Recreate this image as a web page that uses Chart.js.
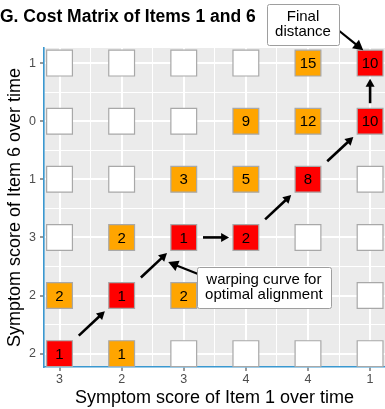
<!DOCTYPE html>
<html>
<head>
<meta charset="utf-8">
<script src="https://cdn.jsdelivr.net/npm/chart.js@4/dist/chart.umd.min.js"></script>
<style>
  html, body { margin: 0; padding: 0; background: #ffffff; }
  canvas { display: block; }
</style>
</head>
<body>
<canvas id="chart" width="385" height="409"></canvas>
<script>
// Symptom scores along each time axis (tick labels)
const xLabels = ['3', '2', '3', '4', '4', '1'];   // Item 1 over time
const yLabels = ['2', '2', '3', '1', '0', '1'];   // Item 6 over time (bottom to top)

// Accumulated cost per cell, rows listed bottom to top; null = cell not evaluated
const costRows = [
  [1,    1,    null, null, null, null],
  [2,    1,    2,    null, null, null],
  [null, 2,    1,    2,    null, null],
  [null, null, 3,    5,    8,    null],
  [null, null, null, 9,    12,   10],
  [null, null, null, null, 15,   10]
];

// Optimal warping path as [column, row]
const warpPath = [[0, 0], [1, 1], [2, 2], [3, 2], [4, 3], [5, 4], [5, 5]];

// Callout labels: text lines, box centre and arrow (data units)
const callouts = [
  { lines: ['Final', 'distance'], at: [3.92, 5.665], from: [4.485, 5.57], to: [4.89, 5.22] },
  { lines: ['warping curve for', 'optimal alignment'], at: [3.29, 1.135], from: [2.23, 1.37], to: [1.75, 1.575] }
];

const FONT = "'Liberation Sans', Arial, Helvetica, sans-serif";
const RED = '#FF0000';
const ORANGE = '#FFA500';

const onPath = (c, r) => warpPath.some(p => p[0] === c && p[1] === r);

const cells = [];
costRows.forEach((row, r) => row.forEach((v, c) => cells.push({ x: c, y: r, v: v })));

function cellColor(d) {
  if (d.v === null) return '#FFFFFF';
  return onPath(d.x, d.y) ? RED : ORANGE;
}

function drawArrow(ctx, x1, y1, x2, y2, lw, headLen, headHalf) {
  const a = Math.atan2(y2 - y1, x2 - x1);
  const bx = x2 - headLen * Math.cos(a), by = y2 - headLen * Math.sin(a);
  ctx.save();
  ctx.strokeStyle = '#000';
  ctx.fillStyle = '#000';
  ctx.lineWidth = lw;
  ctx.lineCap = 'butt';
  ctx.beginPath();
  ctx.moveTo(x1, y1);
  ctx.lineTo(bx + 1 * Math.cos(a), by + 1 * Math.sin(a));
  ctx.stroke();
  ctx.beginPath();
  ctx.moveTo(x2, y2);
  ctx.lineTo(bx + headHalf * Math.sin(a), by - headHalf * Math.cos(a));
  ctx.lineTo(bx - headHalf * Math.sin(a), by + headHalf * Math.cos(a));
  ctx.closePath();
  ctx.fill();
  ctx.restore();
}

// Grey panel behind the grid
const panelBg = {
  id: 'panelBg',
  beforeDraw(chart) {
    const { ctx, chartArea: a } = chart;
    ctx.save();
    ctx.fillStyle = '#EBEBEB';
    ctx.fillRect(a.left, a.top, a.right - a.left, a.bottom - a.top);
    ctx.restore();
  }
};

// Cost numbers, warping arrows and callouts
const overlay = {
  id: 'overlay',
  afterDatasetsDraw(chart) {
    const { ctx, scales: { x, y } } = chart;
    ctx.save();
    ctx.font = '15px ' + FONT;
    ctx.fillStyle = '#000';
    ctx.textAlign = 'center';
    ctx.textBaseline = 'middle';
    cells.forEach(d => {
      if (d.v !== null) ctx.fillText(String(d.v), x.getPixelForValue(d.x), y.getPixelForValue(d.y) + 1);
    });
    ctx.restore();

    for (let i = 0; i < warpPath.length - 1; i++) {
      const [c0, r0] = warpPath[i], [c1, r1] = warpPath[i + 1];
      const s = 0.31, e = 0.73;
      drawArrow(ctx,
        x.getPixelForValue(c0 + s * (c1 - c0)), y.getPixelForValue(r0 + s * (r1 - r0)),
        x.getPixelForValue(c0 + e * (c1 - c0)), y.getPixelForValue(r0 + e * (r1 - r0)),
        2.6, 8, 4.5);
    }
  },
  afterDraw(chart) {
    const { ctx, scales: { x, y } } = chart;
    callouts.forEach(cl => {
      drawArrow(ctx,
        x.getPixelForValue(cl.from[0]), y.getPixelForValue(cl.from[1]),
        x.getPixelForValue(cl.to[0]), y.getPixelForValue(cl.to[1]),
        2.2, 10, 5.5);
      ctx.save();
      ctx.font = '15px ' + FONT;
      const lh = 15;
      const w = Math.max(...cl.lines.map(t => ctx.measureText(t).width)) + 16;
      const h = lh * cl.lines.length + 11;
      const cx = x.getPixelForValue(cl.at[0]), cy = y.getPixelForValue(cl.at[1]);
      const l = Math.round(cx - w / 2) + 0.5, t = Math.round(cy - h / 2) + 0.5;
      ctx.beginPath();
      ctx.roundRect(l, t, Math.round(w), Math.round(h), 2);
      ctx.fillStyle = '#FFFFFF';
      ctx.fill();
      ctx.strokeStyle = '#9E9E9E';
      ctx.lineWidth = 1;
      ctx.stroke();
      ctx.fillStyle = '#000';
      ctx.textAlign = 'center';
      ctx.textBaseline = 'middle';
      cl.lines.forEach((line, k) => {
        ctx.fillText(line, cx, cy - (cl.lines.length - 1) * lh / 2 + k * lh);
      });
      ctx.restore();
    });
  }
};

const isMajor = c => c.tick && Number.isInteger(c.tick.value);
const halfSteps = n => Array.from({ length: 2 * n + 1 }, (_, i) => ({ value: i / 2 }));

function axis(labels, min, max, title, isX) {
  return {
    type: 'linear',
    min: min,
    max: max,
    afterBuildTicks: s => { s.ticks = halfSteps(labels.length - 1); },
    afterFit: s => { if (isX) s.height = 42; else s.width = 44; },
    ticks: {
      autoSkip: false,
      maxRotation: 0,
      padding: isX ? 1 : 4,
      color: '#4D4D4D',
      font: { family: FONT, size: 12.5 },
      callback: v => Number.isInteger(v) ? labels[v] : ''
    },
    grid: {
      color: '#FFFFFF',
      lineWidth: c => isMajor(c) ? 2 : 1,
      tickLength: 4,
      tickWidth: 1,
      tickColor: c => isMajor(c) ? '#333333' : 'rgba(0,0,0,0)'
    },
    border: { display: true, color: '#3A98D0', width: 1.6 },
    title: {
      display: true,
      text: title,
      color: '#000',
      font: { family: FONT, size: 18 },
      padding: isX ? { top: 0, bottom: 0.5 } : { top: 4, bottom: 0 }
    }
  };
}

new Chart(document.getElementById('chart'), {
  type: 'scatter',
  data: {
    datasets: [{
      data: cells,
      pointStyle: 'rect',
      pointRadius: c => {
        const sx = c.chart.scales.x;
        const side = 0.415 * (sx.getPixelForValue(1) - sx.getPixelForValue(0));
        return side / Math.SQRT2;
      },
      pointHoverRadius: c => {
        const sx = c.chart.scales.x;
        return 0.415 * (sx.getPixelForValue(1) - sx.getPixelForValue(0)) / Math.SQRT2;
      },
      backgroundColor: c => cellColor(c.raw),
      borderColor: '#A8A8A8',
      borderWidth: 1.2
    }]
  },
  options: {
    responsive: false,
    animation: false,
    devicePixelRatio: 1,
    layout: { padding: 0 },
    scales: {
      x: axis(xLabels, -0.25, 5.24, 'Symptom score of Item 1 over time', true),
      y: axis(yLabels, -0.23, 5.26, 'Symptom score of Item 6 over time', false)
    },
    plugins: {
      legend: { display: false },
      tooltip: { enabled: false },
      title: {
        display: true,
        text: 'G. Cost Matrix of Items 1 and 6',
        align: 'start',
        color: '#000',
        font: { family: FONT, size: 17.5, weight: 'bold' },
        padding: { top: 7, bottom: 20 }
      }
    }
  },
  plugins: [panelBg, overlay]
});
</script>
</body>
</html>
